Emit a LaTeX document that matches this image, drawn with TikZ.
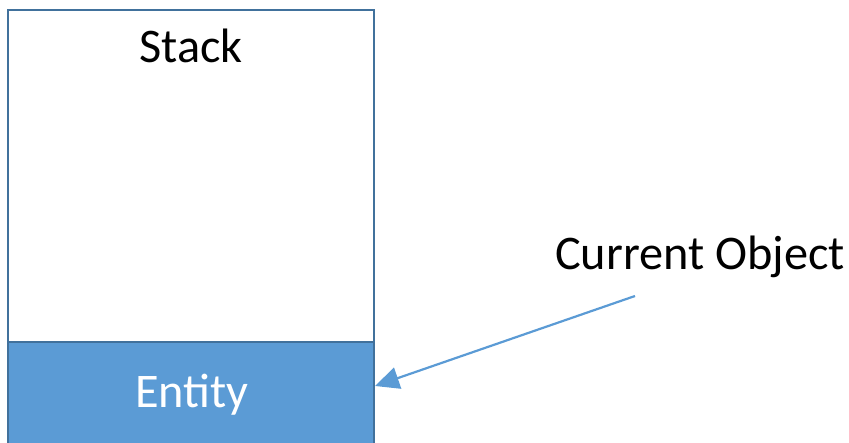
\documentclass[tikz,border=0pt]{standalone}
\usepackage{fontspec}
\setmainfont{Carlito}
\usetikzlibrary{arrows.meta}
\definecolor{fillblue}{HTML}{5B9BD5}
\definecolor{edgeblue}{HTML}{41719C}
\tikzset{
  box/.style={draw=edgeblue, line width=2.4pt},
  lbl/.style={font=\fontsize{48.3}{50}\selectfont, inner sep=0pt},
  pointer/.style={draw=fillblue, line width=2.2pt, -{Triangle[length=24pt,width=22pt]}}
}
\begin{document}
\begin{tikzpicture}[x=1pt,y=-1pt]
\useasboundingbox (0,0) rectangle (849,443);
\clip (0,0) rectangle (849,443);
\draw[box, fill=white] (8,10) rectangle (374,342);
\draw[box, fill=fillblue] (8,342) rectangle (374,460);
\node[lbl, anchor=base] (stack) at (191,63) {Stack};
\node[lbl, anchor=base, text=white] (entity) at (192,408) {Entity};
\node[lbl, anchor=base west] (cur) at (555,270) {Current Object};
\coordinate (tail) at (635,296);
\coordinate (tip) at (375,386);
\draw[pointer] (tail) -- (tip);
\end{tikzpicture}
\end{document}
